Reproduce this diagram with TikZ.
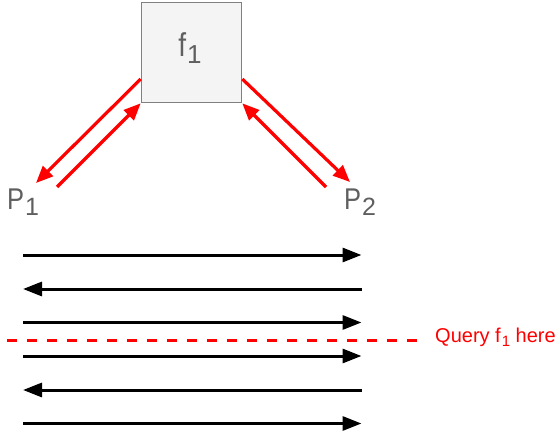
\documentclass[tikz,border=0pt]{standalone}
\usepackage{fontspec}
\usepackage{graphicx}
\setmainfont{Liberation Sans}
\usetikzlibrary{arrows.meta}

\definecolor{txtgray}{RGB}{95,95,95}
\definecolor{boxline}{RGB}{128,128,128}
\definecolor{boxfill}{RGB}{244,244,244}
\definecolor{qred}{RGB}{255,0,0}

% letter followed by a lowered subscript
\newcommand\letsub[4]{\scalebox{0.85}[1]{#1}\kern1pt\raisebox{-#4}{\fontsize{#3}{#3}\selectfont #2}}

\tikzset{
  fbox/.style={draw=boxline, line width=1.6pt, fill=boxfill, minimum width=100pt,
               minimum height=100pt, inner sep=0pt},
  plabel/.style={text=txtgray, font=\fontsize{30}{30}\selectfont, inner sep=0pt, anchor=base west},
  redarrow/.style={draw=qred, line width=3.2pt, -{Triangle[length=17pt,width=14pt]}},
  blackarrow/.style={draw=black, line width=3pt, -{Triangle[length=19pt,width=14pt]}},
  querydash/.style={draw=qred, line width=3pt, dash pattern=on 10pt off 10pt},
  querytext/.style={text=qred, font=\fontsize{20}{20}\selectfont, inner sep=0pt, anchor=base west},
}

\begin{document}
\begin{tikzpicture}[x=1pt,y=-1pt]
  \useasboundingbox (0,0) rectangle (558,436);

  % the function box and the two processes
  \node[fbox] (f1box) at (191.5,52.5) {};
  \node[text=txtgray, font=\fontsize{33}{33}\selectfont, inner sep=0pt, anchor=base] (f1lbl) at (190,57)
    {\letsub{f}{1}{26}{7pt}};
  \node[plabel] (P1) at (7,209.5) {\letsub{P}{1}{25}{6pt}};
  \node[plabel] (P2) at (344,209.5) {\letsub{P}{2}{25}{6pt}};

  % free ends of the message arrows
  \coordinate (toP1) at (36,183);
  \coordinate (fromP1) at (57,187);
  \coordinate (toP2) at (350,182);
  \coordinate (fromP2) at (326,187);

  \draw[redarrow] ([yshift=-26.5pt]f1box.west) -- (toP1);
  \draw[redarrow] (fromP1) -- (f1box.south west);
  \draw[redarrow] ([yshift=-26.5pt]f1box.east) -- (toP2);
  \draw[redarrow] (fromP2) -- (f1box.south east);

  % the message stream
  \foreach \i/\yy in {1/255,2/289,3/322.5,4/356,5/390,6/423.5}{
    \coordinate (L\i) at (23,\yy);
    \coordinate (R\i) at (361.5,\yy);
  }
  \draw[blackarrow] (L1) -- (R1);
  \draw[blackarrow] (R2) -- (L2);
  \draw[blackarrow] (L3) -- (R3);
  \draw[blackarrow] (L4) -- (R4);
  \draw[blackarrow] (R5) -- (L5);
  \draw[blackarrow] (L6) -- (R6);

  % query cut
  \coordinate (qstart) at (7,340);
  \node[querytext] (query) at (435,342)
    {Query f\kern1pt\raisebox{-4pt}{\fontsize{15}{15}\selectfont 1} here};
  \draw[querydash] (qstart) -- ([xshift=-12pt]query.west |- qstart);
\end{tikzpicture}
\end{document}
